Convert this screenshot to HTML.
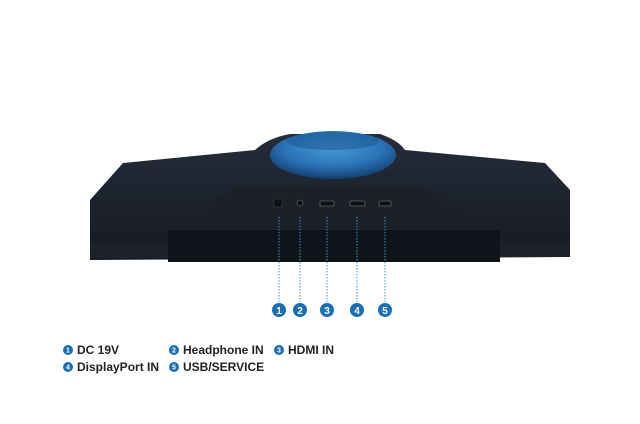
<!DOCTYPE html>
<html><head><style>
body{margin:0;background:#fff;width:640px;height:419px;overflow:hidden;font-family:"Liberation Sans",sans-serif}
</style></head><body>
<svg width="640" height="419" viewBox="0 0 640 419" xmlns="http://www.w3.org/2000/svg">
<defs>
<linearGradient id="body" x1="0" y1="0" x2="0" y2="1"><stop offset="0" stop-color="#262d3a"/><stop offset="1" stop-color="#151a22"/></linearGradient>
<radialGradient id="ring" cx="0.5" cy="0.35" r="0.7"><stop offset="0" stop-color="#4a9ad6"/><stop offset="0.55" stop-color="#2a74b8"/><stop offset="1" stop-color="#0f3560"/></radialGradient>
</defs>
<path d="M90,200 L123,163 L255,150 Q268,138 290,134 L380,134 Q398,140 405,150 L545,163 L570,190 L570,257 L90,260 Z" fill="url(#body)"/>
<rect x="90" y="243" width="80" height="15" fill="#1d2129"/>
<rect x="500" y="243" width="70" height="14" fill="#1d2129"/>
<ellipse cx="333" cy="155" rx="63" ry="24" fill="url(#ring)"/>
<ellipse cx="333" cy="141" rx="46" ry="9" fill="#1c5a94" opacity="0.6"/>
<path d="M237,187 L423,187 L500,230 L168,230 Z" fill="#1b2029"/>
<rect x="168" y="230" width="332" height="32" fill="#10141a"/>
<rect x="274" y="199" width="8" height="8" fill="#0c0f14" stroke="#444" stroke-width="0.5"/>
<circle cx="300" cy="203" r="3" fill="#0c0f14" stroke="#555" stroke-width="0.8"/>
<rect x="320" y="201" width="14" height="5" rx="1" fill="#0c0f14" stroke="#666" stroke-width="0.8"/>
<rect x="350" y="201" width="15" height="5" rx="1" fill="#0c0f14" stroke="#666" stroke-width="0.8"/>
<rect x="379" y="201" width="12" height="5" rx="1" fill="#0c0f14" stroke="#666" stroke-width="0.8"/>
<g stroke="#3a8fd0" stroke-width="1" stroke-dasharray="1.5,1.5">
<line x1="279" y1="217" x2="279" y2="302"/>
<line x1="300" y1="217" x2="300" y2="302"/>
<line x1="327" y1="217" x2="327" y2="302"/>
<line x1="357" y1="217" x2="357" y2="302"/>
<line x1="385" y1="217" x2="385" y2="302"/>
</g>
<g fill="#1a6fb5"><circle cx="279" cy="310" r="7"/><circle cx="300" cy="310" r="7"/><circle cx="327" cy="310" r="7"/><circle cx="357" cy="310" r="7"/><circle cx="385" cy="310" r="7"/></g>
<g fill="#fff" font-size="10" font-weight="bold" text-anchor="middle">
<text x="279" y="314">1</text><text x="300" y="314">2</text><text x="327" y="314">3</text><text x="357" y="314">4</text><text x="385" y="314">5</text>
</g>
<g fill="#1a6fb5"><circle cx="68" cy="350" r="5"/><circle cx="174" cy="350" r="5"/><circle cx="279" cy="350" r="5"/><circle cx="68" cy="367" r="5"/><circle cx="174" cy="367" r="5"/></g>
<g fill="#fff" font-size="7" font-weight="bold" text-anchor="middle">
<text x="68" y="352.5">1</text><text x="174" y="352.5">2</text><text x="279" y="352.5">3</text><text x="68" y="369.5">4</text><text x="174" y="369.5">5</text>
</g>
<g fill="#222" font-size="12" font-weight="bold">
<text x="77" y="354">DC 19V</text><text x="183" y="354">Headphone IN</text><text x="288" y="354">HDMI IN</text>
<text x="77" y="371">DisplayPort IN</text><text x="183" y="371">USB/SERVICE</text>
</g>
</svg>
</body></html>
